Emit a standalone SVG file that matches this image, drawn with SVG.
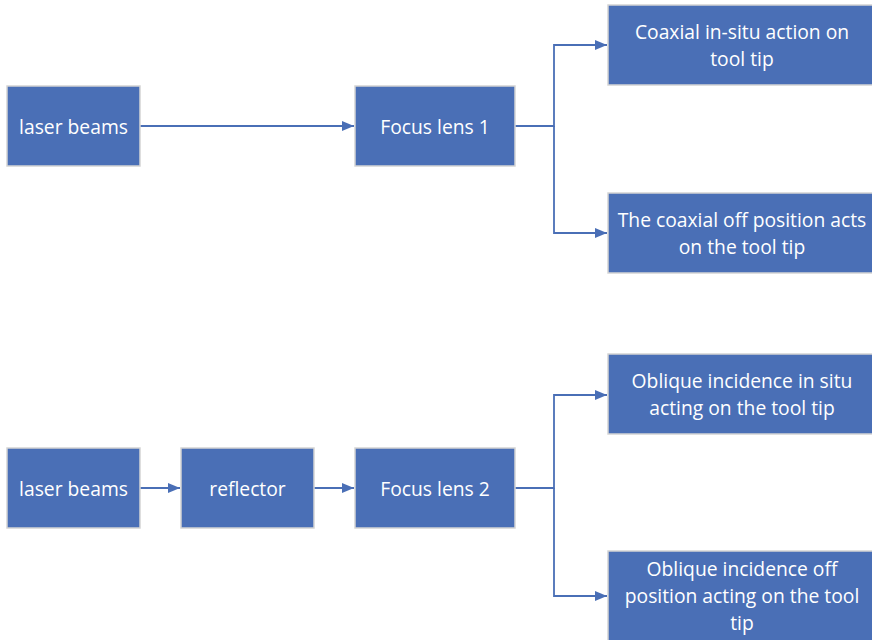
<svg xmlns="http://www.w3.org/2000/svg" width="872" height="640" viewBox="0 0 872 640">
<defs>
<style>
.box{fill:#4a6fb6;stroke:#d4d4d4;stroke-width:1.5}
.t{fill:#ffffff;font-family:"Open Sans","Noto Sans",sans-serif;font-size:19.3px;text-anchor:middle;dominant-baseline:central}
.c{fill:none;stroke:#4a6fb6;stroke-width:1.8}
</style>
<marker id="ah" markerWidth="12" markerHeight="10" refX="12" refY="5" orient="auto" markerUnits="userSpaceOnUse">
<path d="M0,0 L12,5 L0,10 Z" fill="#4a6fb6"/>
</marker>
</defs>
<rect width="872" height="640" fill="#ffffff"/>
<g id="connectors">
<path class="c" d="M140,126 H354" marker-end="url(#ah)"/>
<path class="c" d="M515,126 H554 V45 H607" marker-end="url(#ah)"/>
<path class="c" d="M554,126 V233 H607" marker-end="url(#ah)"/>
<path class="c" d="M140,488 H180" marker-end="url(#ah)"/>
<path class="c" d="M314,488 H354" marker-end="url(#ah)"/>
<path class="c" d="M515,488 H554 V395 H607" marker-end="url(#ah)"/>
<path class="c" d="M554,488 V596 H607" marker-end="url(#ah)"/>
</g>
<g id="laser1"><rect class="box" x="7" y="86" width="133" height="80"/><text class="t" x="73.5" y="126">laser beams</text></g>
<g id="focus1"><rect class="box" x="355" y="86" width="160" height="80"/><text class="t" x="435" y="126">Focus lens 1</text></g>
<g id="coaxIn"><rect class="box" x="608" y="5" width="268" height="80"/><text class="t" x="742" y="31.5">Coaxial in-situ action on</text><text class="t" x="742" y="58.5">tool tip</text></g>
<g id="coaxOff"><rect class="box" x="608" y="193" width="268" height="80"/><text class="t" x="742" y="219.5">The coaxial off position acts</text><text class="t" x="742" y="246.5">on the tool tip</text></g>
<g id="laser2"><rect class="box" x="7" y="448" width="133" height="80"/><text class="t" x="73.5" y="488">laser beams</text></g>
<g id="reflector"><rect class="box" x="181" y="448" width="133" height="80"/><text class="t" x="247.5" y="488">reflector</text></g>
<g id="focus2"><rect class="box" x="355" y="448" width="160" height="80"/><text class="t" x="435" y="488">Focus lens 2</text></g>
<g id="obliqueIn"><rect class="box" x="608" y="354" width="268" height="80"/><text class="t" x="742" y="380.5">Oblique incidence in situ</text><text class="t" x="742" y="407.5">acting on the tool tip</text></g>
<g id="obliqueOff"><rect class="box" x="608" y="551" width="268" height="92"/><text class="t" x="742" y="568.5">Oblique incidence off</text><text class="t" x="742" y="595.5">position acting on the tool</text><text class="t" x="742" y="622.5">tip</text></g>
</svg>
